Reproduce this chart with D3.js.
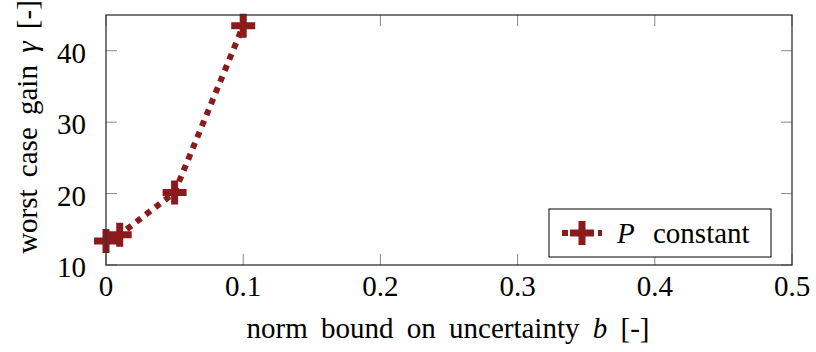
<!DOCTYPE html>
<html>
<head>
<meta charset="utf-8">
<script src="https://cdn.jsdelivr.net/npm/d3@7"></script>
<style>
  body { margin: 0; background: #fff; }
</style>
</head>
<body>
<div id="chart"></div>
<script>
var bound = [0, 0.01, 0.05, 0.1];
var gain = [13.35, 14.25, 20.15, 43.5];
var xTicks = [0, 0.1, 0.2, 0.3, 0.4, 0.5];
var yTicks = [10, 20, 30, 40];
var seriesName = "constant";

var margin = {top: 15, right: 24, bottom: 87, left: 106};
var W = 816, H = 352;
var width = W - margin.left - margin.right;
var height = H - margin.top - margin.bottom;
var red = "#8b1a1a";
var fs = "29px";

var svg = d3.select("#chart").append("svg")
    .attr("width", W)
    .attr("height", H)
    .attr("font-family", "Liberation Serif");

var x = d3.scaleLinear().domain([0, 0.5]).range([0, width]);
var y = d3.scaleLinear().domain([10, 45]).range([height, 0]);

var g = svg.append("g")
    .attr("transform", "translate(" + margin.left + "," + margin.top + ")");

// ticks inside the frame on all sides
var tk = 11;
g.selectAll(".xt").data(xTicks).enter().append("path")
    .attr("d", function(d) { return "M" + x(d) + "," + height + "v" + (-tk) + "M" + x(d) + ",0v" + tk; })
    .attr("stroke", "#888").attr("stroke-width", 1);
g.selectAll(".yt").data(yTicks).enter().append("path")
    .attr("d", function(d) { return "M0," + y(d) + "h" + tk + "M" + width + "," + y(d) + "h" + (-tk); })
    .attr("stroke", "#888").attr("stroke-width", 1);

g.selectAll(".xl").data(xTicks).enter().append("text")
    .attr("x", function(d) { return x(d); })
    .attr("y", height + 31)
    .attr("text-anchor", "middle")
    .style("font-size", fs)
    .text(function(d) { return d3.format("")(d); });

g.selectAll(".yl").data(yTicks).enter().append("text")
    .attr("x", -20)
    .attr("y", function(d) { return y(d) + 12; })
    .attr("text-anchor", "end")
    .style("font-size", fs)
    .text(function(d) { return d; });

// axis titles
var xt = svg.append("text")
    .attr("x", 448)
    .attr("y", 338)
    .attr("text-anchor", "middle")
    .attr("word-spacing", "6px")
    .style("font-size", fs);
xt.append("tspan").text("norm bound on uncertainty ");
xt.append("tspan").style("font-style", "italic").text("b");
xt.append("tspan").text(" [-]");

var yt = svg.append("text")
    .attr("transform", "translate(37,127) rotate(-90)")
    .attr("text-anchor", "middle")
    .attr("word-spacing", "5px")
    .style("font-size", fs);
yt.append("tspan").text("worst case gain ");
yt.append("tspan").style("font-style", "italic").text("γ");
yt.append("tspan").text(" [-]");

// series
var pts = bound.map(function(b, i) { return {b: b, v: gain[i]}; });
var line = d3.line()
    .x(function(d) { return x(d.b); })
    .y(function(d) { return y(d.v); });

g.append("path")
    .datum(pts)
    .attr("fill", "none")
    .attr("stroke", red)
    .attr("stroke-width", 6)
    .attr("stroke-dasharray", "6,6")
    .attr("d", line);

function plus(sel, s, t) {
    sel.append("path")
        .attr("d", "M" + (-s) + ",0H" + s + "M0," + (-s) + "V" + s)
        .attr("stroke", red)
        .attr("stroke-width", t)
        .attr("fill", "none");
}

g.selectAll(".mk").data(pts).enter().append("g")
    .attr("transform", function(d) { return "translate(" + x(d.b) + "," + y(d.v) + ")"; })
    .each(function() { plus(d3.select(this), 12, 7); });

// frame
g.append("rect")
    .attr("width", width).attr("height", height)
    .attr("fill", "none").attr("stroke", "#333").attr("stroke-width", 1.3);

// legend
var lg = svg.append("g").attr("transform", "translate(549,209)");
lg.append("rect").attr("width", 222).attr("height", 48)
    .attr("fill", "#fff").attr("stroke", "#000").attr("stroke-width", 1);
lg.append("path").attr("d", "M13,24H53")
    .attr("stroke", red).attr("stroke-width", 6).attr("stroke-dasharray", "6,6");
var lm = lg.append("g").attr("transform", "translate(33,24)");
plus(lm, 12, 7);
var lt = lg.append("text").attr("x", 68).attr("y", 34)
    .attr("word-spacing", "11px")
    .style("font-size", fs);
lt.append("tspan").style("font-style", "italic").text("P");
lt.append("tspan").text(" " + seriesName);
</script>
</body>
</html>
